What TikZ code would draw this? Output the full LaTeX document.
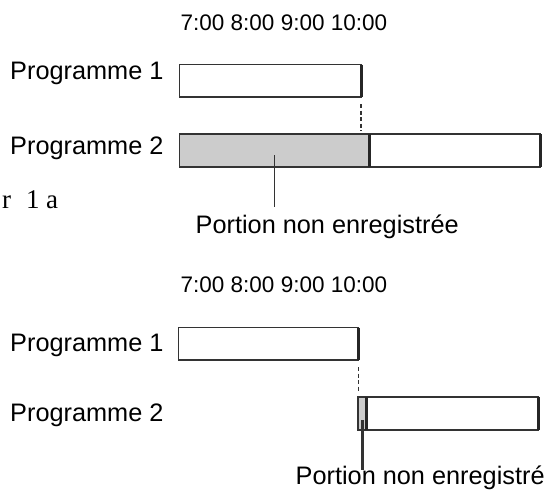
\documentclass[tikz,border=0pt]{standalone}
\usepackage{fontspec}
\setmainfont{Liberation Sans}
\newfontfamily\serifr{Liberation Serif}
\begin{document}
\begin{tikzpicture}[x=1pt,y=-1pt,
  lab/.style={inner sep=0,anchor=base west,font=\fontsize{25.3}{29}\selectfont},
  tim/.style={inner sep=0,anchor=base west,font=\fontsize{22.5}{26}\selectfont},
  bar/.style={draw=black!80,line width=1.8pt,inner sep=0,outer sep=0,anchor=north west,rectangle},
  edgeline/.style={draw=black!85,line width=3pt},
  ptr/.style={draw=black!80,line width=1.5pt},
  dsh/.style={draw=black!80,line width=1.6pt,dash pattern=on 4pt off 2.5pt}]
\useasboundingbox (0,0) rectangle (545,495);
% ---------- top ----------
\node[tim] (t1) at (180.5,30.5) {7:00 8:00 9:00 10:00};
\node[lab] (l1) at (10,79) {Programme 1};
\node[bar,minimum width=181.5pt,minimum height=32.5pt] (a1) at (179.5,64.5) {};
\draw[edgeline] (a1.north east) -- (a1.south east);
\node[bar,fill=black!20,minimum width=190pt,minimum height=33pt] (g2) at (179.5,134) {};
\node[bar,minimum width=171pt,minimum height=33pt] (w2) at (369.5,134) {};
\draw[edgeline] (w2.north west) -- (w2.south west);
\draw[edgeline] (w2.north east) -- (w2.south east);
\draw[dsh] ([yshift=-7pt]a1.south east) -- ([yshift=3pt]a1.south east |- g2.north);
\node[lab] (l2) at (10,154) {Programme 2};
\node[lab] (n1) at (195.5,233) {Portion non enregistrée};
\coordinate (q1) at (274.5,155);
\draw[ptr] (q1) -- ([yshift=26pt]q1 |- n1.base);
\node[inner sep=0,anchor=base west,font=\serifr\fontsize{27}{31}\selectfont] (r1) at (2,208) {r\hspace{15pt}1\hspace{6.5pt}a};
% ---------- bottom ----------
\node[tim] (t2) at (180.5,292.7) {7:00 8:00 9:00 10:00};
\node[lab] (l3) at (10,351) {Programme 1};
\node[bar,minimum width=180pt,minimum height=32.5pt] (a2) at (178.5,327.5) {};
\draw[edgeline] (a2.north east) -- (a2.south east);
\node[bar,fill=black!20,minimum width=7.7pt,minimum height=33.3pt] (g4) at (358.3,396.7) {};
\node[bar,minimum width=172.3pt,minimum height=33.3pt] (w4) at (366,396.7) {};
\draw[edgeline] (w4.north west) -- (w4.south west);
\draw[edgeline] (w4.north east) -- (w4.south east);
\draw[dsh] ([yshift=-7pt]a2.south east) -- ([yshift=5pt]a2.south east |- g4.north);
\node[lab] (l4) at (10,421) {Programme 2};
\node[lab] (n2) at (295.5,484) {Portion non enregistré};
\coordinate (q2) at (362.5,420);
\draw[ptr,line width=2.5pt] (q2) -- ([yshift=14pt]q2 |- n2.base);
\end{tikzpicture}
\end{document}
